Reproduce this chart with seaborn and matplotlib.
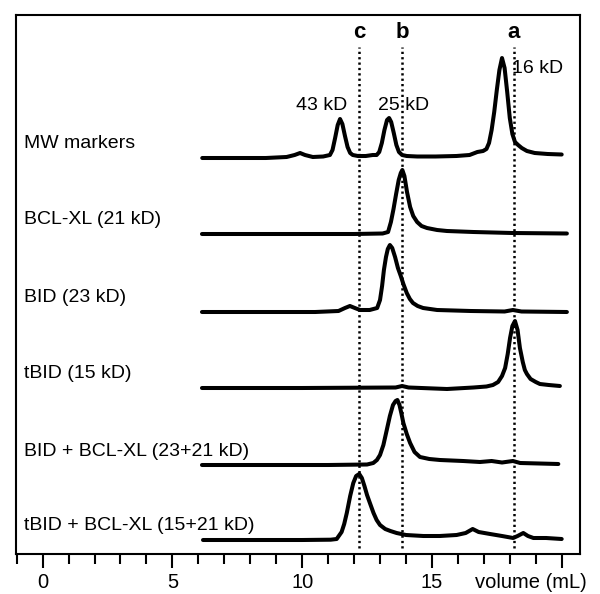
import numpy as np
import pandas as pd
import matplotlib
matplotlib.use("Agg")
import matplotlib.pyplot as plt
from matplotlib.ticker import MultipleLocator
import seaborn as sns

# elution volume (mL) and absorbance (arbitrary units) for each run
mw_vol = [6.15, 7.6, 8.6, 9.4, 9.71, 9.92, 10.11, 10.41, 10.81, 11.07,
          11.17, 11.27, 11.37, 11.46, 11.55, 11.65, 11.75, 11.85, 11.95, 12.15,
          12.45, 12.72, 12.87, 12.97, 13.07, 13.17, 13.27, 13.35, 13.43, 13.53,
          13.63, 13.73, 13.85, 14.03, 14.43, 15.14, 15.94, 16.45, 16.75, 16.97,
          17.1, 17.2, 17.3, 17.4, 17.5, 17.6, 17.7, 17.8, 17.9, 18.0,
          18.1, 18.2, 18.32, 18.46, 18.66, 18.96, 19.46, 20.0]
mw_sig = [0, 0, 0, 1, 3, 5, 3, 1, 1.5, 3,
          8, 20, 33, 39, 34, 22, 11, 5, 3, 2,
          2, 3, 3, 6, 15, 28, 38, 40, 36, 25,
          13, 6, 3, 2, 1.5, 1.5, 2, 3, 6, 7,
          9, 15, 28, 46, 68, 88, 100, 90, 66, 40,
          24, 16, 13, 10, 7, 5, 4, 3.5]

bcl_vol = [6.14, 9.0, 12.0, 13.1, 13.31, 13.42, 13.52, 13.62, 13.72, 13.8, 13.86,
           13.94, 14.04, 14.16, 14.28, 14.43, 14.6, 14.81, 15.2, 15.58, 16.6, 18.1, 20.2]
bcl_sig = [0, 0, 0, 0.5, 2, 12, 25, 40, 54, 61, 64,
           58, 42, 27, 18, 12, 8, 6, 4, 3, 2, 1, 0.5]

bid_vol = [6.14, 10.5, 11.4, 11.65, 11.84, 12.03, 12.23, 12.6, 12.89, 13.0,
           13.08, 13.15, 13.23, 13.3, 13.38, 13.47, 13.58, 13.69, 13.8, 13.9,
           14.03, 14.15, 14.27, 14.45, 14.66, 15.2, 16.5, 17.8, 18.12, 18.45, 20.2]
bid_sig = [0, 0, 1, 4, 6, 4, 2, 2, 4, 12,
           26, 42, 55, 63, 67, 64, 55, 44, 36, 28,
           19, 13, 9, 6, 4, 2, 1, 0.5, 2, 0.5, 0]

tbid_vol = [6.14, 10.0, 13.6, 13.85, 14.1, 15.58, 16.6, 17.1, 17.35, 17.55,
            17.7, 17.82, 17.92, 18.01, 18.1, 18.2, 18.3, 18.39, 18.5, 18.58,
            18.66, 18.8, 19.0, 19.16, 19.5, 19.93]
tbid_sig = [0, 0, 0.5, 2, 0.5, -1, 0.5, 1.5, 3, 6,
            12, 20, 34, 50, 62, 67, 58, 40, 26, 18,
            14, 9, 6, 4, 3, 2]

bb_vol = [6.14, 11.0, 12.5, 12.74, 12.88, 13.0, 13.13, 13.26, 13.38, 13.5,
          13.6, 13.67, 13.75, 13.82, 13.9, 14.03, 14.16, 14.33, 14.54, 14.9,
          15.31, 16.2, 16.85, 17.3, 17.7, 18.12, 18.4, 19.87]
bb_sig = [0, 0, 0.5, 2, 5, 10, 20, 35, 49, 60,
          64, 65, 60, 52, 42, 31, 22, 13, 8, 6,
          5, 4, 3, 4, 2.5, 4, 2, 1]

tb_vol = [6.18, 10.0, 11.1, 11.33, 11.52, 11.62, 11.72, 11.85, 11.97, 12.08,
          12.2, 12.3, 12.4, 12.5, 12.61, 12.75, 12.87, 13.0, 13.2, 13.4,
          13.64, 14.0, 14.67, 15.3, 15.95, 16.3, 16.57, 16.8, 17.24, 17.7,
          18.13, 18.3, 18.52, 18.7, 18.91, 19.4, 20.0]
tb_sig = [0, 0, 0.3, 1, 8, 16, 27, 44, 57, 64,
          66, 62, 54, 45, 37, 27, 20, 15, 11, 9,
          7, 5, 4, 4, 5, 7, 11, 8, 6, 4,
          2, 4, 7, 4, 2, 2, 1]

trace_names = ["MW markers", "BCL-XL (21 kD)", "BID (23 kD)", "tBID (15 kD)",
               "BID + BCL-XL (23+21 kD)", "tBID + BCL-XL (15+21 kD)"]
trace_vols = [mw_vol, bcl_vol, bid_vol, tbid_vol, bb_vol, tb_vol]
trace_sigs = [mw_sig, bcl_sig, bid_sig, tbid_sig, bb_sig, tb_sig]
trace_offsets = [396, 320, 242, 166, 89, 14]

marker_labels = ["43 kD", "25 kD", "16 kD"]
marker_x = [10.76, 13.89, 18.1]
ref_letters = ["c", "b", "a"]
ref_volumes = [12.2, 13.85, 18.16]

frames = []
for name, v, s, off in zip(trace_names, trace_vols, trace_sigs, trace_offsets):
    frames.append(pd.DataFrame({"volume": v, "signal": np.array(s) + off, "trace": name}))
df = pd.concat(frames, ignore_index=True)

sns.set_style("white")
plt.rcParams["font.family"] = ["Liberation Sans", "DejaVu Sans"]
plt.rcParams["text.color"] = "black"
plt.rcParams["xtick.color"] = "black"
plt.rcParams["axes.labelcolor"] = "black"

fig = plt.figure(figsize=(6, 5.94), dpi=100)
ax = fig.add_axes([16 / 600, 1 - 554 / 594, 564 / 600, 539 / 594])

sns.lineplot(data=df, x="volume", y="signal", units="trace", estimator=None,
             sort=False, color="black", linewidth=2.9, legend=False, ax=ax,
             solid_joinstyle="round", solid_capstyle="round")

# reference elution volumes
ax.vlines(ref_volumes, 6, 507, colors="black", linewidth=1.8, linestyles=(0, (0.9, 1.25)))
for letter, v in zip(ref_letters, ref_volumes):
    ax.text(v, 516, letter, ha="center", va="baseline", fontsize=16, fontweight="bold")

# marker annotations
ax.text(marker_x[0], 444, marker_labels[0], ha="center", va="baseline", fontsize=14)
ax.text(marker_x[1], 444, marker_labels[1], ha="center", va="baseline", fontsize=14)
ax.text(marker_x[2], 481, marker_labels[2], ha="left", va="baseline", fontsize=14)

for name, off in zip(trace_names, trace_offsets):
    ax.text(-0.72, off + 14, name, ha="left", va="center", fontsize=14)

ax.set_xlim(-1.025, 20.705)
ax.set_ylim(0, 539)
ax.set_xticks([0, 5, 10, 15, 20])
ax.set_xticklabels(["0", "5", "10", "15", ""])
ax.xaxis.set_minor_locator(MultipleLocator(1))
ax.set_yticks([])
ax.tick_params(axis="x", which="major", direction="out", length=10, width=1.5,
               labelsize=14.5, pad=3.5, bottom=True, colors="black")
ax.tick_params(axis="x", which="minor", direction="out", length=7, width=1.5,
               bottom=True, colors="black")
ax.set_xlabel("")
ax.set_ylabel("")
for sp in ax.spines.values():
    sp.set_visible(True)
    sp.set_linewidth(1.5)
    sp.set_color("black")

ax.text(18.8, -(14 + 4.9) / 539, "volume (mL)", transform=ax.get_xaxis_transform(),
        ha="center", va="top", fontsize=14.5)

fig.savefig("out.png", dpi=100)
